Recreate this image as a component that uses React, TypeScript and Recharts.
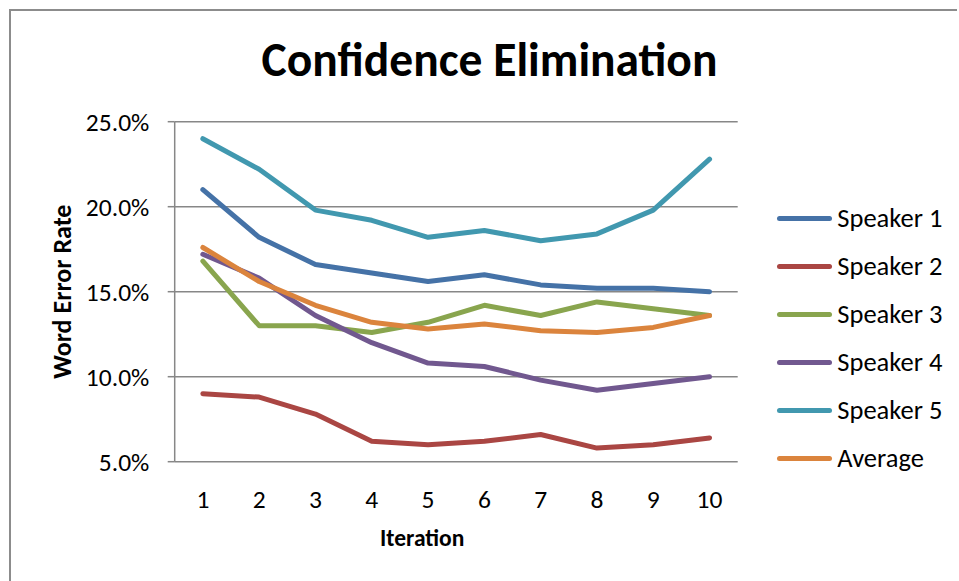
import React from 'react'
import { LineChart, Line, XAxis, YAxis, CartesianGrid, Legend } from 'recharts'

const iterations = [1, 2, 3, 4, 5, 6, 7, 8, 9, 10]
const speaker1 = [21.0, 18.2, 16.6, 16.1, 15.6, 16.0, 15.4, 15.2, 15.2, 15.0]
const speaker2 = [9.0, 8.8, 7.8, 6.2, 6.0, 6.2, 6.6, 5.8, 6.0, 6.4]
const speaker3 = [16.8, 13.0, 13.0, 12.6, 13.2, 14.2, 13.6, 14.4, 14.0, 13.6]
const speaker4 = [17.2, 15.8, 13.6, 12.0, 10.8, 10.6, 9.8, 9.2, 9.6, 10.0]
const speaker5 = [24.0, 22.2, 19.8, 19.2, 18.2, 18.6, 18.0, 18.4, 19.8, 22.8]
const average = [17.6, 15.6, 14.2, 13.2, 12.8, 13.1, 12.7, 12.6, 12.9, 13.6]
const yTicks = [5, 10, 15, 20, 25]

const seriesNames = ['Speaker 1', 'Speaker 2', 'Speaker 3', 'Speaker 4', 'Speaker 5', 'Average']
const seriesValues = [speaker1, speaker2, speaker3, speaker4, speaker5, average]
const seriesColors = ['#4572A7', '#AA4643', '#89A54E', '#71588F', '#4198AF', '#DB843D']

const data = iterations.map((it, i) => {
  const row: Record<string, number> = { iteration: it }
  seriesNames.forEach((name, s) => { row[name] = seriesValues[s][i] })
  return row
})

// tick marks sit between categories, like Excel
const edgeTicks = [iterations[0] - 0.5, ...iterations.map(n => n + 0.5)]
const xDomain = [edgeTicks[0], edgeTicks[edgeTicks.length - 1]]

const FONT = 'Carlito, Calibri, Lato, sans-serif'
const GRAY = '#878787'

function LegendBox({ payload }: any) {
  // keep series order instead of recharts' alphabetical sort
  const items = [...(payload || [])].sort((a: any, b: any) => seriesNames.indexOf(a.value) - seriesNames.indexOf(b.value))
  return (
    <div>
      {items.map((p: any) => (
        <div key={p.value} style={{ display: 'flex', alignItems: 'center', height: 48 }}>
          <span style={{ display: 'inline-block', width: 55, height: 5, borderRadius: 3, background: p.color }} />
          <span style={{ marginLeft: 5, fontSize: 26.5, color: '#000', whiteSpace: 'nowrap' }}>{p.value}</span>
        </div>
      ))}
    </div>
  )
}

export default function App() {
  return (
    <div style={{ position: 'absolute', left: 9, top: 9, width: 946, height: 570, borderLeft: '2px solid #8c8c8c', borderTop: '2px solid #8c8c8c', fontFamily: FONT, background: '#fff' }}>
      <div style={{ position: 'absolute', left: 0, top: 20, width: 957, textAlign: 'center', fontSize: 47.5, fontWeight: 'bold', color: '#000' }}>
        Confidence Elimination
      </div>
      <LineChart width={937} height={565} data={data} margin={{ top: 110.7, right: 30.3, bottom: 19.3, left: 0 }}>
        <CartesianGrid xAxisId="edge" vertical={false} stroke={GRAY} strokeWidth={1.5} />
        <XAxis xAxisId="edge" dataKey="iteration" type="number" domain={xDomain} ticks={edgeTicks} height={0}
          tick={false} tickSize={8} axisLine={{ stroke: GRAY, strokeWidth: 1.5 }} tickLine={{ stroke: GRAY, strokeWidth: 1.5 }} />
        <XAxis xAxisId="label" dataKey="iteration" type="number" domain={xDomain} ticks={iterations} height={95}
          axisLine={false} tickLine={false} tickSize={8} tickMargin={20} interval={0}
          tick={{ fill: '#000', fontSize: 25.5 }}
          label={{ value: 'Iteration', position: 'insideBottom', offset: 10.7, dx: -34, fill: '#000', fontSize: 23.5, fontWeight: 'bold' }} />
        <YAxis domain={[yTicks[0], yTicks[yTicks.length - 1]]} ticks={yTicks} width={163.7} tickSize={7} tickMargin={18.4}
          tickFormatter={(v: number) => v.toFixed(1) + '%'}
          tick={{ fill: '#000', fontSize: 25.5 }}
          axisLine={{ stroke: GRAY, strokeWidth: 1.5 }} tickLine={{ stroke: GRAY, strokeWidth: 1.5 }}
          label={{ value: 'Word Error Rate', angle: -90, position: 'insideLeft', offset: 51, fill: '#000', fontSize: 26, fontWeight: 'bold', style: { textAnchor: 'middle' } }} />
        <Legend layout="vertical" align="right" verticalAlign="middle" content={<LegendBox />}
          wrapperStyle={{ left: 766.3, top: 183.3, width: 180 }} />
        {seriesNames.map((name, s) => (
          <Line key={name} xAxisId="label" dataKey={name} name={name} stroke={seriesColors[s]} strokeWidth={5}
            strokeLinecap="round" strokeLinejoin="round" dot={false} activeDot={false} isAnimationActive={false} />
        ))}
      </LineChart>
    </div>
  )
}
